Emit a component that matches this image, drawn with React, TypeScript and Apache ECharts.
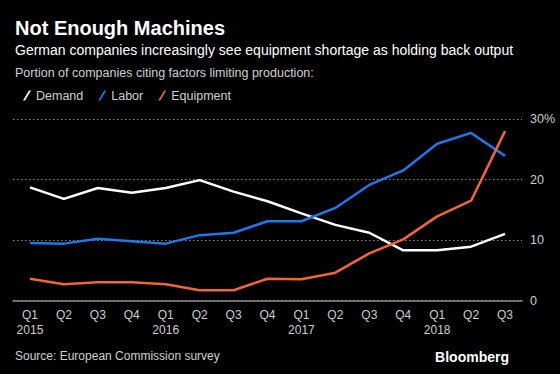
import React, { useEffect, useRef } from "react";
import * as echarts from "echarts";

const quarters = ["Q1", "Q2", "Q3", "Q4", "Q1", "Q2", "Q3", "Q4", "Q1", "Q2", "Q3", "Q4", "Q1", "Q2", "Q3"];
const years = ["2015", "", "", "", "2016", "", "", "", "2017", "", "", "", "2018", "", ""];
const demand = [18.7, 16.8, 18.6, 17.8, 18.6, 19.9, 18.0, 16.4, 14.4, 12.5, 11.2, 8.3, 8.3, 8.9, 11.0];
const labor = [9.5, 9.4, 10.2, 9.8, 9.4, 10.8, 11.2, 13.1, 13.1, 15.3, 19.1, 21.5, 25.9, 27.7, 23.9];
const equipment = [3.6, 2.7, 3.0, 3.0, 2.7, 1.7, 1.7, 3.6, 3.5, 4.6, 7.8, 10.1, 13.9, 16.5, 28.0];
const yTicks = [0, 10, 20, 30];

const FONT = "'Liberation Sans', Arial, sans-serif";
const slash = "path://M0,10 L2,10 L8,0 L6,0 Z";

export default function App() {
  const ref = useRef<HTMLDivElement>(null);
  useEffect(() => {
    if (!ref.current) return;
    const chart = echarts.init(ref.current, null, { renderer: "svg" });
    const cats = quarters.map((q, i) => (years[i] ? q + "\n" + years[i] : q));
    const mk = (name: string, data: number[], color: string) => ({
      name,
      type: "line",
      data,
      symbol: "none",
      lineStyle: { color, width: 2.5 },
      itemStyle: { color },
    });
    chart.setOption({
      animation: false,
      backgroundColor: "#000000",
      textStyle: { fontFamily: FONT },
      legend: {
        left: 18,
        top: 84,
        itemWidth: 8,
        itemHeight: 10,
        itemGap: 15,
        icon: slash,
        textStyle: { color: "#d0d0d0", fontSize: 12.5, fontFamily: FONT },
        data: [
          { name: "Demand", itemStyle: { color: "#ffffff" } },
          { name: "Labor", itemStyle: { color: "#1f78e6" } },
          { name: "Equipment", itemStyle: { color: "#f2643a" } },
        ],
      },
      grid: { left: 13, right: 38, top: 119, bottom: 73.5, containLabel: false },
      xAxis: {
        type: "category",
        data: cats,
        boundaryGap: true,
        axisLine: { lineStyle: { color: "#8a8a8a", width: 1.5 } },
        axisTick: { alignWithLabel: true, length: 5, lineStyle: { color: "#8a8a8a" } },
        axisLabel: { color: "#cfcfcf", fontSize: 12, lineHeight: 15, margin: 7, interval: 0, fontFamily: FONT },
      },
      yAxis: {
        type: "value",
        position: "right",
        min: 0,
        max: 30,
        interval: 10,
        axisLine: { show: false },
        axisTick: { show: false },
        axisLabel: {
          color: "#cfcfcf",
          fontSize: 12.5,
          margin: 8,
          fontFamily: FONT,
          formatter: (v: number) => (yTicks.indexOf(v) >= 0 ? (v === 30 ? v + "%" : String(v)) : ""),
        },
        splitLine: {
          lineStyle: { color: "#8a8a8a", type: [1.5, 2.5], width: 1 },
        },
      },
      series: [
        mk("Demand", demand, "#ffffff"),
        mk("Labor", labor, "#1f78e6"),
        mk("Equipment", equipment, "#f2643a"),
      ],
      graphic: [
        {
          type: "text",
          left: 15,
          top: 18,
          style: { text: "Not Enough Machines", fill: "#ffffff", font: "bold 20px " + FONT },
        },
        {
          type: "text",
          left: 15,
          top: 43,
          style: {
            text: "German companies increasingly see equipment shortage as holding back output",
            fill: "#ffffff",
            font: "14px " + FONT,
          },
        },
        {
          type: "text",
          left: 15,
          top: 66,
          style: {
            text: "Portion of companies citing factors limiting production:",
            fill: "#d0d0d0",
            font: "12.5px " + FONT,
          },
        },
        {
          type: "text",
          left: 15,
          top: 350,
          style: { text: "Source: European Commission survey", fill: "#d0d0d0", font: "12px " + FONT },
        },
        {
          type: "text",
          right: 51,
          top: 350,
          style: { text: "Bloomberg", fill: "#ffffff", font: "bold 14px " + FONT },
        },
      ],
    });
    return () => chart.dispose();
  }, []);
  return <div ref={ref} style={{ width: 560, height: 374, position: "absolute", left: 0, top: 0 }} />;
}
